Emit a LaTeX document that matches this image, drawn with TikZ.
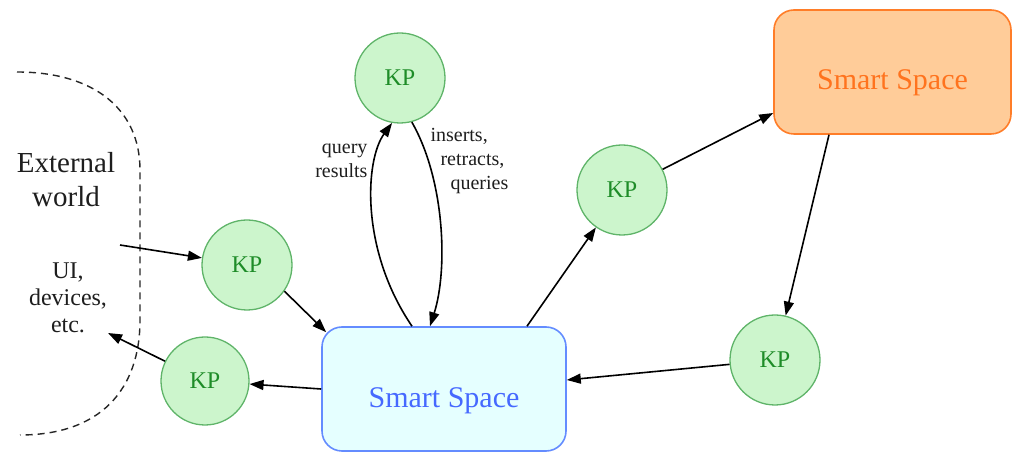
\documentclass[tikz,border=0pt]{standalone}
\usepackage{fontspec}
\setmainfont{Liberation Serif}
\usetikzlibrary{arrows.meta}
\definecolor{kpfill}{RGB}{204,245,204}
\definecolor{kpdraw}{RGB}{95,180,105}
\definecolor{kptext}{RGB}{30,140,40}
\definecolor{ssfill}{RGB}{229,255,255}
\definecolor{ssdraw}{RGB}{100,140,255}
\definecolor{sstext}{RGB}{70,105,255}
\definecolor{osfill}{RGB}{255,204,153}
\definecolor{osdraw}{RGB}{255,125,40}
\definecolor{ostext}{RGB}{255,115,30}
\definecolor{txtgray}{RGB}{30,30,30}
\begin{document}
\begin{tikzpicture}[x=1pt,y=1pt,
  kp/.style={circle,draw=kpdraw,fill=kpfill,text=kptext,line width=1.3pt,minimum size=90pt,inner sep=0pt,font=\fontsize{24}{28}\selectfont},
  space/.style={rectangle,rounded corners=20pt,line width=1.6pt,inner sep=0pt,text depth=0pt,font=\fontsize{30}{34}\selectfont},
  arr/.style={-{Triangle[length=14pt,width=10pt]},line width=1.6pt,black},
  lbl/.style={font=\fontsize{20}{24}\selectfont,text=txtgray},
  bigtxt/.style={font=\fontsize{29}{34}\selectfont,text=txtgray,align=center},
  midtxt/.style={font=\fontsize{24}{27}\selectfont,text=txtgray,align=center}
]
\useasboundingbox (0,0) rectangle (1012,452);

% dashed boundary of external world
\draw[dash pattern=on 7pt off 5pt,line width=1.4pt,black!85]
  (17,380) .. controls (95,380) and (140,342) .. (140,282)
  -- (140,132) .. controls (140,62) and (100,17) .. (20,17);

\node[bigtxt] (ext) at (66,272) {External\\world};
\node[midtxt] (ui) at (68,154) {UI,\\devices,\\etc.};

% Smart spaces
\node[space,draw=ssdraw,fill=ssfill,text=sstext,minimum width=244pt,minimum height=124pt,text height=37.8pt] (ss) at (444,63) {Smart Space};
\node[space,draw=osdraw,fill=osfill,text=ostext,minimum width=237pt,minimum height=124pt,text height=35.8pt] (os) at (892.5,380) {Smart Space};

% KPs
\node[kp] (kp1) at (400,374) {KP};
\node[kp] (kp2) at (622,262) {KP};
\node[kp] (kp3) at (247,187) {KP};
\node[kp,minimum size=88pt] (kp4) at (205,71) {KP};
\node[kp] (kp5) at (775,92) {KP};

\coordinate (extin) at (120,207);
\coordinate (uiout) at (108,119);

% connectors
\draw[arr] (extin) -- (kp3);
\draw[arr] (kp3.-35) -- ([shift={(5pt,-6pt)}]ss.north west);
\draw[arr] (ss.west) -- (kp4);
\draw[arr] (kp4) -- (uiout);
\draw[arr] ([xshift=-32pt]ss.north) .. controls (360,202) and (365,292) .. (kp1.-100);
\draw[arr] (kp1.-75) .. controls (445,272) and (448,182) .. ([xshift=-14pt]ss.north);
\draw[arr] ([xshift=83pt]ss.north) -- (kp2);
\draw[arr] (kp2) -- ([yshift=-41pt]os.west);
\draw[arr] ([xshift=-63.5pt]os.south) -- (kp5);
\draw[arr] (kp5) -- ([yshift=9pt]ss.east);

% labels
\node[lbl,align=right,anchor=east] (ql) at (371,291) {query\\results};
\node[lbl,align=left,anchor=west] (il) at (427,291) {inserts,\\\hspace*{10pt}retracts,\\\hspace*{20pt}queries};
\end{tikzpicture}
\end{document}
